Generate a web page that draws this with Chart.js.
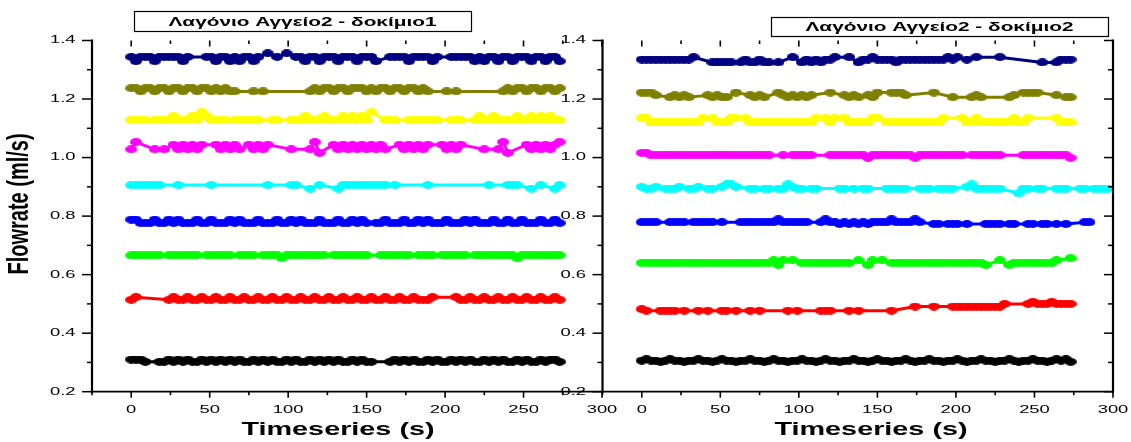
<!DOCTYPE html>
<html>
<head>
<meta charset="utf-8">
<script src="https://cdn.jsdelivr.net/npm/chart.js@4/dist/chart.umd.min.js"></script>
<style>
  html, body { margin: 0; padding: 0; background: #fff; }
  #wrap { position: relative; width: 1131px; height: 442px; overflow: hidden; background: #fff; }
  canvas { position: absolute; top: 0; }
  #chartB { left: 560px; }
  #chartA { left: 0; }
</style>
</head>
<body>
<div id="wrap">
  <canvas id="chartB" width="571" height="442"></canvas>
  <canvas id="chartA" width="625" height="442"></canvas>
</div>
<script>
// ---- data -------------------------------------------------------------
const panelTitles = ["Λαγόνιο Αγγείο2 - δοκίμιο1", "Λαγόνιο Αγγείο2 - δοκίμιο2"];
const xAxisTitle = "Timeseries (s)";
const yAxisTitle = "Flowrate (ml/s)";

const xTickValues = [0, 50, 100, 150, 200, 250, 300];
const xTickLabels = ["0", "50", "100", "150", "200", "250", "300"];
const xMinorTicks = [-25, 25, 75, 125, 175, 225, 275];
const yTickValues = [0.2, 0.4, 0.6, 0.8, 1.0, 1.2, 1.4];
const yTickLabels = ["0.2", "0.4", "0.6", "0.8", "1.0", "1.2", "1.4"];
const yMinorTicks = [0.3, 0.5, 0.7, 0.9, 1.1, 1.3];

// logged samples are 3 s apart; each character is one sample slot
// ("." = nothing logged, digit = index into that run's flow levels in ml/s),
// written in blocks of ten slots (30 s)
const sampleStep = 3;

// specimen 1 — flow levels per run
const levelsA = [
  [1.344, 1.356, 1.329],
  [1.237, 1.247, 1.226],
  [1.128, 1.142, 1.116, 1.155],
  [1.044, 1.053, 1.028, 1.016],
  [0.906, 0.915, 0.894],
  [0.776, 0.788, 0.768],
  [0.666, 0.675, 0.656],
  [0.514, 0.523, 0.506],
  [0.310, 0.317, 0.302]
];
// specimen 1 — logged samples per run
const samplesA = [
  ["0200020000", "020...0020", "02020020.1", ".0.1.00200", "2000200020", "002..00002", "000020..00", "0002020020", "0200020020", "02"],
  ["0020020020", "0200200202", "022...2.2.", "........20", "2002002000", "2020020020", "0202...2.2", ".........2", "0200200200", "20"],
  ["0000.00001", "0001031000", "0.000000..", "00..000100", "0100010101", "03..000..0", "000000..00", "0..0100100", "0010010101", "00"],
  ["21...2.2.0", "202020..02", "0202.02020", "....2...21", "3..0202020", "20202..020", "2020..0202", "0....2..21", "3...020202", "01"],
  ["0000000...", "0......0..", ".........0", "....00..2.", "0...200000", "00000.0...", "...0......", "......0...", "000..2.0..", "20"],
  ["1100010010", "1000100100", "0101000100", "0100101000", "1000100101", "0.00100010", "0101000100", "0101000100", "1001000100", "10"],
  ["0000000.00", "00000.0000", "00.0000.00", "0020000000", "00.0000000", "0..0000000", ".0000.0000", "00.0000000", "0020000000", "00"],
  ["01......01", "0010010010", "0100100100", "1001001001", "0010010010", "0100100100", "10001....1", "0010010010", "0100100100", "10"],
  ["0002..2202", "0202202020", "2020220202", "0220202202", "0202022020", "22...20202", "0220202202", "0202202020", "2202022020", "02"]
];

// specimen 2 — flow levels per run
const levelsB = [
  [1.335, 1.343, 1.325],
  [1.213, 1.222, 1.206],
  [1.120, 1.135],
  [1.008, 1.016, 0.999],
  [0.900, 0.908, 0.894, 0.878],
  [0.779, 0.789, 0.773],
  [0.640, 0.649, 0.633, 0.656],
  [0.482, 0.491, 0.477, 0.500, 0.507],
  [0.306, 0.311, 0.302]
];
// specimen 2 — logged samples per run
const samplesB = [
  ["0000000000", "01...22222", ".2022022.2", "..1.202020", "01..1.2001", "0000200000", "00000101.0", ".1....1...", ".....2..20", "00"],
  ["1110..2020", "2...02022.", "1..0202..1", "0202020...", "1..0202.02", "1..1110...", "..1...2...", "202.....20", ".1111...0.", "22"],
  ["1100000000", "0001.10001", "1.10000000", "00000001.1", "01.1000001", "1.00000000", "00001...10", "0100000001", "001.....10", "00"],
  ["1100000000", "0000000000", "00000000..", "0.00000...", "0000000020", "0000000020", "000000000.", "0000000...", ".000000000", "02"],
  ["0220.2220.", "220.22.011", "0..22.22.2", "21022.22..", "..22.2.22.", "..22222..2", "22.2222..0", "1222222...", "322.22..22", "2..22.2222"],
  ["0000..0000", ".00000.0..", ".000000001", "000000..01", "0020202020", "0001000010", "..22.222.2", "...2222.22", "..22.22.2.", "2...00"],
  ["0000000000", "0000000000", "0000000012", "1.1.000000", "00000.1.21", ".1.0000000", "0000000000", "0002..1.20", "000000001.", ".3"],
  ["02..2222.2", "..2.2..22.", "2..2.2....", ".2.2....22", "2...2.2...", "...2....1.", "..1...1111", "11111113..", "..34333433", "33"],
  ["0100201002", "0010020100", "2001002010", "0200100201", "0020010020", "1002001020", "0100200102", "0010020010", "2001002010", "12"]
];

const runColors = ["#000080", "#808000", "#ffff00", "#ff00ff", "#00ffff", "#0000ff", "#00ff00", "#ff0000", "#000000"];

// ---- helpers ----------------------------------------------------------
const FONT = '"Liberation Sans", Arial, sans-serif';
const SX_TICK = 1.75;   // wide tick lettering
const SX_TEXT = 1.6;    // wide title lettering

function decodeRun(blocks, levels) {
  const pattern = blocks.join('');
  const pts = [];
  for (let i = 0; i < pattern.length; i++) {
    const c = pattern[i];
    if (c === '.') continue;
    pts.push({ x: i * sampleStep, y: levels[Number(c)] });
  }
  return pts;
}

// oval marker (symbols are wider than tall)
function ovalMarker(color) {
  const c = document.createElement('canvas');
  c.width = 12; c.height = 8;
  const g = c.getContext('2d');
  g.fillStyle = color;
  g.beginPath();
  g.ellipse(6, 4, 6, 3.9, 0, 0, Math.PI * 2);
  g.fill();
  return c;
}

function buildDatasets(samples, levels) {
  return samples.map((s, k) => ({
    data: decodeRun(s, levels[k]),
    borderColor: runColors[k],
    backgroundColor: runColors[k],
    borderWidth: 3,
    pointStyle: ovalMarker(runColors[k]),
    pointRadius: 4,
    pointHoverRadius: 4,
    showLine: true,
    tension: 0,
    clip: false
  }));
}

function seg(ctx, x1, y1, x2, y2, w) {
  ctx.lineWidth = w;
  ctx.beginPath();
  ctx.moveTo(x1, y1);
  ctx.lineTo(x2, y2);
  ctx.stroke();
}

function wideText(ctx, text, x, y, font, align, baseline, sx) {
  ctx.save();
  ctx.font = font;
  ctx.textAlign = align;
  ctx.textBaseline = baseline;
  ctx.translate(x, y);
  ctx.scale(sx, 1);
  ctx.fillText(text, 0, 0);
  ctx.restore();
}

function framePlugin(cfg) {
  return {
    id: 'frame' + cfg.key,
    afterDatasetsDraw(chart) {
      const ctx = chart.ctx, a = chart.chartArea;
      const xs = chart.scales.x, ys = chart.scales.y;
      ctx.save();
      ctx.strokeStyle = '#000';
      ctx.fillStyle = '#000';

      // axis lines
      seg(ctx, a.left, a.top - 1, a.left, a.bottom + 1, 2.2);
      seg(ctx, a.left - 1, a.bottom, a.right, a.bottom, 1.7);
      if (cfg.rightAxis) seg(ctx, a.right, a.top - 1, a.right, a.bottom + 1, 2.2);

      // y ticks and labels
      yTickValues.forEach((v, i) => {
        const y = ys.getPixelForValue(v);
        seg(ctx, a.left - 10, y, a.left, y, 1.5);
        if (cfg.rightAxis) seg(ctx, a.right - 9, y, a.right, y, 1.5);
        wideText(ctx, yTickLabels[i], a.left - 16.5, y, '10.5px ' + FONT, 'right', 'middle', SX_TICK);
      });
      yMinorTicks.forEach(v => {
        const y = ys.getPixelForValue(v);
        seg(ctx, a.left - 5, y, a.left, y, 1.5);
        if (cfg.rightAxis) seg(ctx, a.right - 5, y, a.right, y, 1.5);
      });

      // x ticks (bottom outward, top inward) and labels
      xTickValues.forEach((v, i) => {
        const x = xs.getPixelForValue(v);
        seg(ctx, x, a.bottom, x, a.bottom + 6, 1.6);
        seg(ctx, x, a.top, x, a.top + 6, 1.6);
        wideText(ctx, xTickLabels[i], x, a.bottom + 21, '10.5px ' + FONT, 'center', 'alphabetic', SX_TICK);
      });
      xMinorTicks.forEach(v => {
        const x = xs.getPixelForValue(v);
        seg(ctx, x, a.bottom, x, a.bottom + 3.5, 1.6);
        seg(ctx, x, a.top, x, a.top + 3.5, 1.6);
      });

      // axis titles
      wideText(ctx, xAxisTitle, cfg.xTitleX, 435, 'bold 18px ' + FONT, 'center', 'alphabetic', SX_TEXT);
      if (cfg.yTitle) {
        ctx.save();
        ctx.translate(20, 204);
        ctx.rotate(-Math.PI / 2);
        ctx.scale(1, 1.5);
        ctx.font = 'bold 20px ' + FONT;
        ctx.textAlign = 'center';
        ctx.textBaseline = 'middle';
        ctx.fillText(yAxisTitle, 0, 0);
        ctx.restore();
      }

      // boxed panel title
      const b = cfg.box;
      ctx.fillStyle = '#fff';
      ctx.fillRect(b.x, b.y, b.w, b.h);
      ctx.strokeStyle = '#000';
      ctx.lineWidth = 1.2;
      ctx.strokeRect(b.x + 0.5, b.y + 0.5, b.w, b.h);
      ctx.fillStyle = '#000';
      wideText(ctx, cfg.title, b.x + b.w / 2, b.y + b.h / 2 + 1, 'bold 13px ' + FONT, 'center', 'middle', SX_TEXT);
      ctx.restore();
    }
  };
}

function makePanel(canvasId, samples, levels, cfg) {
  return new Chart(document.getElementById(canvasId), {
    type: 'scatter',
    data: { datasets: buildDatasets(samples, levels) },
    options: {
      responsive: false,
      animation: false,
      devicePixelRatio: 1,
      events: [],
      layout: { padding: { left: 0, right: cfg.padRight, top: 40.5, bottom: 0 } },
      plugins: { legend: { display: false }, tooltip: { enabled: false }, title: { display: false } },
      scales: {
        x: {
          type: 'linear', min: -25, max: 300,
          grid: { display: false }, border: { display: false }, ticks: { display: false },
          afterFit(s) { s.height = 50.3; }
        },
        y: {
          type: 'linear', min: 0.2, max: 1.4,
          grid: { display: false }, border: { display: false }, ticks: { display: false },
          afterFit(s) { s.width = cfg.yWidth; }
        }
      }
    },
    plugins: [framePlugin(cfg)]
  });
}

makePanel('chartB', samplesB, levelsB, {
  key: 'B', padRight: 18, yWidth: 42.5, rightAxis: true, yTitle: false,
  xTitleX: 311, title: panelTitles[1], box: { x: 211, y: 17, w: 337, h: 19 }
});
makePanel('chartA', samplesA, levelsA, {
  key: 'A', padRight: 23, yWidth: 92, rightAxis: false, yTitle: true,
  xTitleX: 338, title: panelTitles[0], box: { x: 134, y: 11, w: 337, h: 20 }
});
</script>
</body>
</html>
